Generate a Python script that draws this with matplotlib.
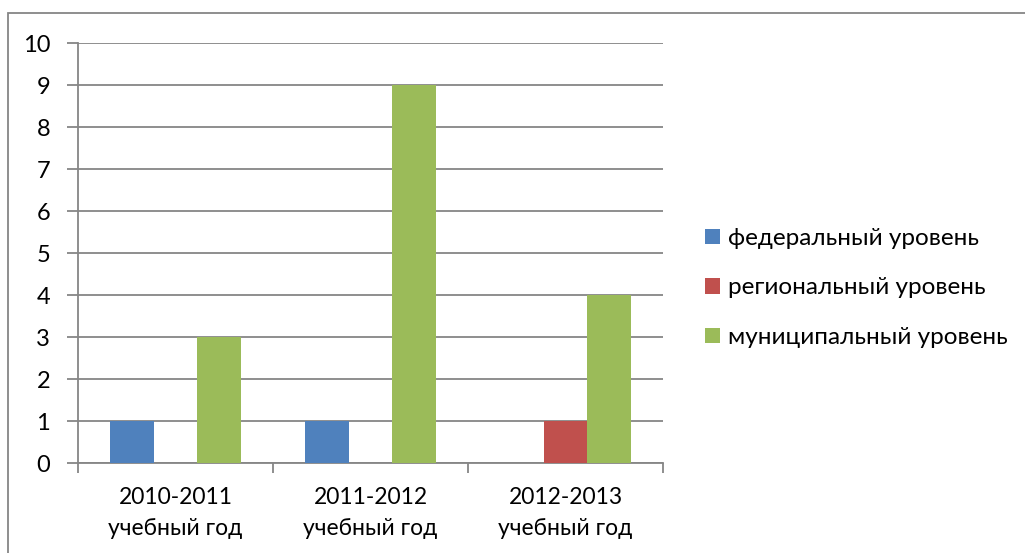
import matplotlib
matplotlib.use("Agg")
import matplotlib.pyplot as plt
import numpy as np
from matplotlib.patches import Rectangle, Patch

categories = ["2010-2011\nучебный год", "2011-2012\nучебный год", "2012-2013\nучебный год"]
series_names = ["федеральный уровень", "региональный уровень", "муниципальный уровень"]
federal = [1, 1, 0]
regional = [0, 0, 1]
municipal = [3, 9, 4]
colors = ["#4F81BD", "#C0504D", "#9BBB59"]

plt.rcParams['font.family'] = ['Lato', 'DejaVu Sans']
W, H = 1025, 553
fig = plt.figure(figsize=(W/100, H/100), dpi=100)

# outer frame
fig.patches.append(Rectangle((8/W, -0.1), 1.2, (H - 13)/H + 0.1, transform=fig.transFigure,
                             fill=False, edgecolor="#868686", linewidth=1.3))

ax = fig.add_axes([78/W, 1 - 463/H, (663 - 78)/W, (463 - 43)/H])
x = np.arange(len(categories))
bw = 0.223
for i, (vals, c) in enumerate(zip([federal, regional, municipal], colors)):
    ax.bar(x + (i - 1) * bw, vals, width=bw, color=c, zorder=3)

ax.set_xlim(-0.5, 2.5)
ax.set_ylim(0, 10)
ax.set_yticks(range(0, 11))
ax.yaxis.grid(True, color="#868686", linewidth=1.3, zorder=0)
ax.set_axisbelow(True)
for s in ["top", "right"]:
    ax.spines[s].set_visible(False)
for s in ["left", "bottom"]:
    ax.spines[s].set_color("#868686")
    ax.spines[s].set_linewidth(1.3)
ax.set_xticks([-0.5, 0.5, 1.5, 2.5])
ax.set_xticklabels([])
ax.set_xticks(x, minor=True)
ax.set_xticklabels(categories, minor=True, fontsize=16.5, linespacing=1.6)
ax.tick_params(axis="x", which="major", length=7, color="#868686", width=1.3)
ax.tick_params(axis="x", which="minor", length=0, pad=17)
ax.tick_params(axis="y", length=8, color="#868686", width=1.3, labelsize=17, pad=12)

handles = [Patch(facecolor=c, edgecolor="none") for c in colors]
fig.legend(handles, series_names, loc="center left", bbox_to_anchor=(705/W, 1 - 288/H),
           frameon=False, fontsize=17.5, handlelength=0.6, handleheight=0.6,
           handletextpad=0.33, labelspacing=1.17, borderpad=0, borderaxespad=0)

fig.savefig("out.png", dpi=100)
